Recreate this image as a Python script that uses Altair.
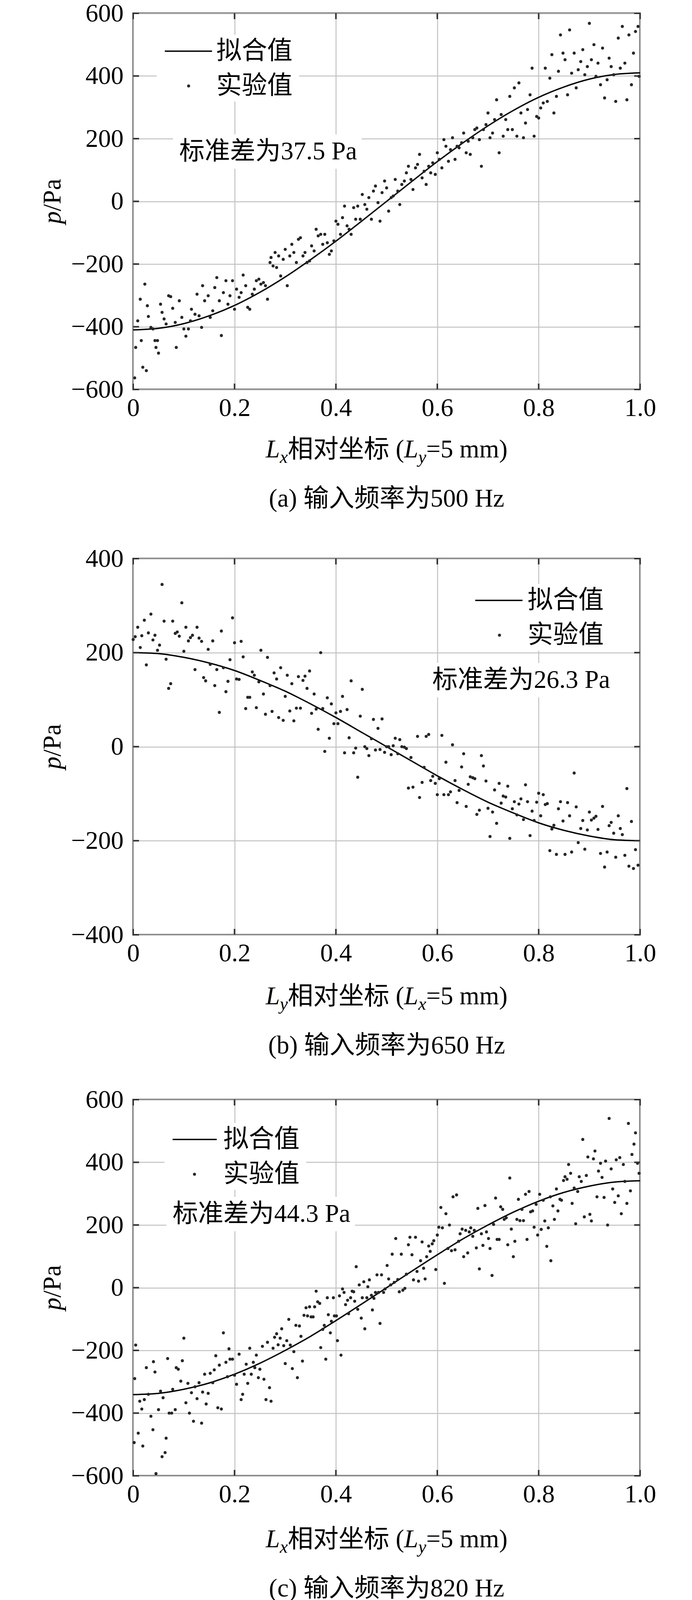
import altair as alt
import pandas as pd

SERIF = "'Liberation Serif', 'Noto Sans CJK SC'"
W, H = 1298, 963
DOT = "#262626"
GRID = "#c2c2c2"
FRAME = "#333333"
FS = 65

X_TICKS = [0, 0.2, 0.4, 0.6, 0.8, 1.0]
Y_TICKS_600 = [-600, -400, -200, 0, 200, 400, 600]
Y_TICKS_400 = [-400, -200, 0, 200, 400]

# fitted curves, read every 0.05 along x
FIT_X = [0, 0.05, 0.1, 0.15, 0.2, 0.25, 0.3, 0.35, 0.4, 0.45, 0.5,
         0.55, 0.6, 0.65, 0.7, 0.75, 0.8, 0.85, 0.9, 0.95, 1.0]
A_FIT = [-410, -405, -390, -365, -332, -290, -241, -186, -127, -64, 0,
         64, 127, 186, 241, 290, 332, 365, 390, 405, 410]
B_FIT = [200, 198, 190, 178, 162, 141, 118, 91, 62, 31, 0,
         -31, -62, -91, -118, -141, -162, -178, -190, -198, -200]
C_FIT = [-341, -337, -324, -304, -276, -241, -200, -155, -105, -53, 0,
         53, 105, 155, 200, 241, 276, 304, 324, 337, 341]
D_FIT = [360, 342, 291, 212, 111, 0, -111, -212, -291, -342, -360,
         -342, -291, -212, -111, 0, 111, 212, 291, 342, 360]

# measured points (x, p)
A_PTS = [(0.003,-563),(0.005,-466),(0.009,-381),(0.014,-312),(0.016,-444),(0.019,-529),(0.023,-264),(0.026,-540),
(0.028,-333),(0.030,-367),(0.035,-402),(0.039,-407),(0.043,-444),(0.045,-466),(0.048,-444),(0.050,-484),(0.054,-328),
(0.057,-354),(0.061,-375),(0.065,-391),(0.070,-301),(0.074,-304),(0.078,-341),(0.083,-386),(0.085,-466),(0.091,-317),
(0.096,-370),(0.100,-407),(0.104,-430),(0.109,-407),(0.113,-381),(0.115,-344),(0.122,-360),(0.126,-296),(0.130,-365),
(0.135,-402),(0.137,-269),(0.141,-317),(0.148,-301),(0.152,-370),(0.157,-349),(0.161,-275),(0.165,-243),(0.170,-317),
(0.174,-428),(0.178,-291),(0.183,-253),(0.187,-328),(0.191,-301),(0.196,-253),(0.200,-344),(0.204,-280),(0.209,-306),
(0.213,-291),(0.217,-235),(0.222,-269),(0.226,-338),(0.230,-344),(0.235,-296),(0.239,-280),(0.243,-253),(0.248,-248),
(0.252,-264),(0.257,-259),(0.261,-269),(0.265,-312),(0.270,-195),(0.272,-179),(0.276,-206),(0.280,-163),(0.283,-211),
(0.287,-174),(0.291,-238),(0.296,-185),(0.300,-153),(0.304,-269),(0.309,-174),(0.313,-137),(0.317,-163),(0.322,-195),
(0.326,-121),(0.330,-116),(0.335,-174),(0.339,-163),(0.343,-195),(0.348,-190),(0.352,-142),(0.357,-158),(0.361,-89),
(0.365,-110),(0.370,-105),(0.374,-137),(0.378,-105),(0.383,-132),(0.387,-169),(0.391,-158),(0.396,-126),(0.400,-63),
(0.404,-73),(0.409,-105),(0.413,-52),(0.417,-15),(0.422,-78),(0.426,-89),(0.430,-105),(0.435,-20),(0.439,-57),
(0.443,-15),(0.448,-57),(0.452,22),(0.457,-10),(0.461,-25),(0.465,12),(0.470,-57),(0.474,33),(0.478,49),(0.483,-4),
(0.487,-63),(0.491,28),(0.496,65),(0.500,43),(0.504,-31),(0.509,12),(0.513,17),(0.517,70),(0.522,33),(0.526,-10),
(0.530,54),(0.535,65),(0.539,91),(0.543,112),(0.548,70),(0.552,38),(0.557,107),(0.561,118),(0.565,150),(0.570,75),
(0.574,96),(0.578,54),(0.583,112),(0.587,91),(0.591,123),(0.596,86),(0.600,155),(0.604,134),(0.609,107),(0.613,197),
(0.617,176),(0.622,128),(0.626,165),(0.630,203),(0.635,134),(0.639,176),(0.643,171),(0.648,187),(0.652,218),(0.657,155),
(0.661,192),(0.665,150),(0.670,203),(0.674,229),(0.678,234),(0.683,197),(0.687,112),(0.691,229),(0.696,245),(0.700,282),
(0.704,203),(0.709,218),(0.713,261),(0.717,324),(0.722,155),(0.726,277),(0.730,208),(0.735,261),(0.739,229),(0.743,335),
(0.748,229),(0.752,362),(0.757,208),(0.761,378),(0.765,282),(0.770,203),(0.774,250),(0.778,293),(0.783,340),(0.787,425),
(0.791,208),(0.796,271),(0.800,266),(0.804,298),(0.809,314),(0.813,425),(0.817,319),(0.822,393),(0.826,468),(0.830,282),
(0.835,335),(0.839,415),(0.843,531),(0.848,473),(0.852,452),(0.857,340),(0.861,547),(0.865,409),(0.870,473),(0.874,362),
(0.878,420),(0.883,446),(0.887,484),(0.891,404),(0.896,430),(0.900,568),(0.904,452),(0.909,500),(0.913,399),(0.917,441),
(0.922,372),(0.926,489),(0.930,330),(0.935,388),(0.939,457),(0.943,430),(0.948,404),(0.952,319),(0.957,521),(0.961,425),
(0.965,558),(0.970,441),(0.974,324),(0.978,531),(0.983,372),(0.987,473),(0.991,542),(0.996,558),(0.998,399)]

B_PTS = [(0.000,228),(0.004,234),(0.009,254),(0.014,211),(0.017,236),(0.022,269),(0.026,174),(0.030,242),(0.035,282),
(0.039,227),(0.043,237),(0.048,205),(0.052,216),(0.057,345),(0.061,267),(0.065,186),(0.070,124),(0.074,134),(0.078,267),
(0.083,241),(0.087,244),(0.091,235),(0.096,306),(0.100,203),(0.104,254),(0.109,225),(0.113,232),(0.117,237),(0.122,164),
(0.126,254),(0.130,231),(0.135,224),(0.139,147),(0.143,140),(0.148,207),(0.152,175),(0.157,225),(0.161,130),(0.165,164),
(0.170,73),(0.174,246),(0.178,168),(0.183,117),(0.187,139),(0.191,185),(0.196,274),(0.200,221),(0.204,144),(0.209,143),
(0.213,224),(0.217,191),(0.222,81),(0.226,105),(0.230,105),(0.235,159),(0.239,152),(0.243,83),(0.248,138),(0.252,205),
(0.257,112),(0.261,69),(0.265,190),(0.270,130),(0.274,75),(0.278,157),(0.283,144),(0.287,62),(0.291,168),(0.296,56),
(0.300,107),(0.304,152),(0.309,76),(0.313,134),(0.317,55),(0.322,82),(0.326,149),(0.330,82),(0.335,141),(0.339,150),
(0.343,124),(0.348,161),(0.352,71),(0.357,112),(0.361,80),(0.365,37),(0.370,200),(0.374,81),(0.378,-10),(0.383,104),
(0.387,18),(0.391,91),(0.396,49),(0.400,72),(0.404,49),(0.409,75),(0.413,107),(0.417,-13),(0.422,79),(0.426,19),
(0.430,140),(0.435,-13),(0.439,-3),(0.443,-65),(0.448,65),(0.452,122),(0.457,0),(0.461,-4),(0.465,-19),(0.470,17),
(0.474,58),(0.478,-7),(0.483,39),(0.487,-6),(0.491,59),(0.496,-12),(0.500,0),(0.504,0),(0.509,-17),(0.513,2),(0.517,18),
(0.522,-15),(0.526,15),(0.530,0),(0.535,-1),(0.539,-4),(0.543,-88),(0.548,-23),(0.552,-86),(0.561,22),(0.565,-108),
(0.570,-76),(0.574,-44),(0.578,22),(0.583,26),(0.587,-72),(0.591,-63),(0.596,-78),(0.600,-102),(0.604,-68),(0.609,24),
(0.613,-102),(0.617,-33),(0.622,-102),(0.626,-96),(0.630,4),(0.635,-72),(0.639,-119),(0.643,-93),(0.648,-43),(0.652,-15),
(0.657,-127),(0.661,-80),(0.665,-64),(0.670,-66),(0.674,-68),(0.678,-144),(0.683,-135),(0.687,-19),(0.691,-41),
(0.696,-73),(0.700,-131),(0.704,-191),(0.709,-139),(0.713,-92),(0.717,-163),(0.722,-78),(0.726,-120),(0.730,-105),
(0.735,-107),(0.739,-84),(0.743,-195),(0.748,-132),(0.752,-117),(0.757,-145),(0.761,-122),(0.765,-111),(0.770,-155),
(0.774,-81),(0.778,-117),(0.783,-189),(0.787,-137),(0.791,-157),(0.796,-118),(0.800,-99),(0.804,-147),(0.809,-102),
(0.813,-123),(0.817,-121),(0.822,-221),(0.826,-175),(0.830,-167),(0.835,-229),(0.839,-132),(0.843,-117),(0.848,-158),
(0.852,-229),(0.857,-119),(0.861,-147),(0.865,-224),(0.870,-56),(0.874,-128),(0.878,-204),(0.883,-174),(0.887,-157),
(0.891,-218),(0.896,-177),(0.900,-139),(0.904,-156),(0.909,-152),(0.913,-148),(0.917,-176),(0.922,-227),(0.926,-127),
(0.930,-256),(0.935,-224),(0.939,-168),(0.943,-161),(0.948,-184),(0.952,-235),(0.957,-147),(0.961,-174),(0.965,-187),
(0.970,-231),(0.974,-89),(0.978,-254),(0.983,-159),(0.987,-259),(0.991,-219),(0.996,-252)]

C_PTS = [(0.002,-494),(0.003,-290),(0.005,-183),(0.010,-464),(0.013,-362),(0.017,-387),(0.019,-505),(0.022,-357),
(0.026,-255),(0.030,-340),(0.035,-410),(0.039,-453),(0.040,-236),(0.043,-269),(0.045,-593),(0.050,-389),(0.054,-330),
(0.057,-539),(0.059,-351),(0.063,-526),(0.065,-480),(0.068,-226),(0.071,-400),(0.076,-400),(0.078,-324),(0.083,-389),
(0.085,-255),(0.089,-260),(0.094,-298),(0.097,-233),(0.100,-161),(0.104,-367),(0.108,-305),(0.111,-400),(0.115,-335),
(0.119,-426),(0.122,-316),(0.126,-354),(0.130,-303),(0.135,-432),(0.137,-333),(0.141,-276),(0.144,-371),(0.148,-337),
(0.152,-273),(0.157,-303),(0.160,-262),(0.163,-217),(0.167,-383),(0.170,-247),(0.174,-387),(0.178,-144),(0.183,-238),
(0.186,-284),(0.189,-195),(0.191,-228),(0.196,-228),(0.200,-279),(0.204,-308),(0.209,-212),(0.213,-357),(0.216,-340),
(0.219,-276),(0.223,-244),(0.226,-305),(0.230,-193),(0.233,-276),(0.237,-238),(0.240,-255),(0.243,-215),(0.247,-287),
(0.250,-260),(0.255,-187),(0.258,-292),(0.262,-357),(0.265,-174),(0.269,-319),(0.272,-362),(0.276,-193),(0.279,-158),
(0.283,-147),(0.286,-182),(0.290,-161),(0.293,-131),(0.297,-185),(0.300,-242),(0.303,-169),(0.307,-101),(0.310,-183),
(0.314,-258),(0.317,-204),(0.321,-120),(0.324,-287),(0.328,-122),(0.331,-155),(0.334,-234),(0.337,-88),(0.341,-64),
(0.344,-90),(0.348,-61),(0.351,-93),(0.355,-93),(0.358,-61),(0.361,-11),(0.364,-45),(0.368,-50),(0.370,-191),
(0.374,-133),(0.377,-120),(0.380,-228),(0.383,-32),(0.385,-86),(0.389,-144),(0.391,-107),(0.395,-32),(0.397,-90),
(0.401,-90),(0.403,-169),(0.407,-26),(0.410,-215),(0.413,-4),(0.416,-15),(0.419,-54),(0.423,-40),(0.425,-83),
(0.429,-32),(0.432,-11),(0.435,-13),(0.437,-43),(0.440,67),(0.443,-69),(0.446,9),(0.450,-97),(0.452,-32),(0.455,19),
(0.457,-131),(0.461,-32),(0.463,3),(0.466,25),(0.470,-24),(0.472,-71),(0.475,-34),(0.478,-15),(0.481,41),(0.484,-15),
(0.487,-114),(0.490,41),(0.494,-15),(0.497,-4),(0.501,71),(0.504,28),(0.508,9),(0.511,107),(0.515,17),(0.518,157),
(0.522,26),(0.525,-13),(0.529,107),(0.532,-8),(0.536,-2),(0.539,43),(0.543,137),(0.546,161),(0.550,105),(0.553,25),
(0.557,161),(0.560,52),(0.563,21),(0.567,86),(0.570,146),(0.573,62),(0.576,28),(0.579,99),(0.583,133),(0.586,116),
(0.590,140),(0.593,150),(0.597,58),(0.600,168),(0.603,193),(0.607,256),(0.610,191),(0.614,14),(0.617,236),(0.621,125),
(0.624,200),(0.628,118),(0.631,290),(0.635,121),(0.638,296),(0.642,148),(0.645,172),(0.649,187),(0.652,99),(0.656,183),
(0.660,111),(0.663,178),(0.666,191),(0.670,164),(0.673,183),(0.677,127),(0.680,253),(0.683,60),(0.687,172),(0.690,135),
(0.694,262),(0.697,178),(0.701,157),(0.704,125),(0.708,39),(0.711,202),(0.715,286),(0.718,154),(0.722,154),(0.725,258),
(0.729,250),(0.732,218),(0.736,223),(0.739,137),(0.743,350),(0.746,187),(0.750,99),(0.753,148),(0.757,218),(0.760,282),
(0.763,214),(0.767,250),(0.770,214),(0.774,298),(0.777,154),(0.781,307),(0.784,242),(0.788,245),(0.791,193),(0.795,266),
(0.798,168),(0.802,298),(0.805,186),(0.809,279),(0.812,213),(0.816,132),(0.819,191),(0.823,290),(0.824,86),(0.828,261),
(0.831,218),(0.835,315),(0.838,245),(0.842,282),(0.845,279),(0.849,342),(0.852,354),(0.856,346),(0.859,393),(0.863,365),
(0.866,269),(0.870,318),(0.873,204),(0.877,307),(0.880,354),(0.884,339),(0.887,473),(0.890,226),(0.894,358),(0.897,417),
(0.901,234),(0.904,213),(0.908,411),(0.911,436),(0.915,290),(0.918,372),(0.922,397),(0.925,352),(0.929,288),(0.932,404),
(0.936,200),(0.939,540),(0.943,379),(0.946,315),(0.950,272),(0.953,408),(0.957,293),(0.960,415),(0.963,236),(0.967,393),
(0.970,339),(0.974,269),(0.977,524),(0.981,309),(0.984,425),(0.988,458),(0.991,494),(0.995,397),(0.998,365)]

D_PTS = [(0.002,444),(0.003,368),(0.005,336),(0.009,347),(0.012,586),(0.016,430),(0.017,501),(0.021,433),(0.023,464),
(0.026,449),(0.030,290),(0.033,556),(0.037,320),(0.039,554),(0.043,290),(0.045,419),(0.049,145),(0.052,486),(0.056,243),
(0.059,358),(0.063,318),(0.066,336),(0.070,299),(0.073,118),(0.077,290),(0.079,481),(0.082,342),(0.085,404),(0.088,264),
(0.090,175),(0.094,215),(0.097,363),(0.101,121),(0.104,401),(0.107,207),(0.110,197),(0.112,325),(0.116,275),(0.118,41),
(0.122,277),(0.124,365),(0.127,358),(0.130,207),(0.134,170),(0.137,191),(0.141,272),(0.143,17),(0.146,256),(0.150,78),
(0.153,159),(0.156,143),(0.159,172),(0.163,180),(0.165,111),(0.169,135),(0.172,105),(0.175,121),(0.177,92),(0.181,92),
(0.184,2),(0.187,39),(0.190,-15),(0.193,-2),(0.196,0),(0.199,54),(0.203,28),(0.206,110),(0.209,25),(0.212,-40),
(0.216,64),(0.219,-47),(0.223,86),(0.226,24),(0.230,43),(0.233,-50),(0.236,14),(0.238,-50),(0.241,14),(0.243,38),
(0.247,35),(0.250,-37),(0.252,-115),(0.255,-204),(0.257,-144),(0.261,-64),(0.264,-90),(0.267,18),(0.270,-77),(0.273,-153),
(0.277,-86),(0.279,-153),(0.283,-142),(0.285,-107),(0.289,-90),(0.291,-15),(0.294,-101),(0.297,-118),(0.300,-120),
(0.303,-40),(0.306,-136),(0.309,-206),(0.312,-99),(0.315,-155),(0.317,-161),(0.320,-244),(0.323,-333),(0.326,-208),
(0.329,-185),(0.331,-236),(0.334,-212),(0.337,-190),(0.339,-155),(0.342,-169),(0.345,-337),(0.348,-244),(0.350,-195),
(0.353,-279),(0.356,-212),(0.358,-312),(0.362,-312),(0.365,-228),(0.368,-333),(0.370,-294),(0.374,-308),(0.377,-308),
(0.380,-301),(0.383,-273),(0.385,-308),(0.388,-322),(0.391,-290),(0.395,-212),(0.398,-279),(0.401,-255),(0.404,-255),
(0.407,-357),(0.410,-359),(0.413,-273),(0.416,-236),(0.419,-255),(0.423,-314),(0.425,-193),(0.428,-312),(0.430,-453),
(0.433,-380),(0.437,-421),(0.440,-269),(0.443,-294),(0.445,-378),(0.448,-265),(0.450,-294),(0.454,-319),(0.457,-351),
(0.461,-269),(0.463,-357),(0.466,-357),(0.470,-236),(0.472,-426),(0.475,-445),(0.478,-298),(0.482,-340),(0.484,-416),
(0.487,-287),(0.490,-335),(0.494,-370),(0.497,-346),(0.501,-380),(0.503,-327),(0.506,-340),(0.509,-265),(0.511,-308),
(0.515,-276),(0.518,-473),(0.522,-391),(0.524,-247),(0.527,-183),(0.530,-305),(0.534,-308),(0.537,-273),(0.541,-330),
(0.544,-279),(0.548,-305),(0.551,-273),(0.555,-308),(0.558,-337),(0.562,-322),(0.565,-344),(0.569,-281),(0.572,-308),
(0.577,-389),(0.579,-351),(0.583,-290),(0.586,-330),(0.590,-312),(0.593,-298),(0.597,-271),(0.600,-247),(0.603,-322),
(0.607,-284),(0.610,-370),(0.614,-204),(0.617,-172),(0.621,-226),(0.624,-265),(0.628,-327),(0.631,-58),(0.635,-161),
(0.638,-198),(0.642,-351),(0.645,-294),(0.649,-208),(0.652,-222),(0.656,-161),(0.660,-190),(0.663,-258),(0.666,-183),
(0.670,-90),(0.673,-165),(0.677,-322),(0.680,-136),(0.683,-165),(0.687,-179),(0.690,-129),(0.694,-201),(0.697,-142),
(0.701,-99),(0.704,-88),(0.708,-75),(0.711,-212),(0.715,-217),(0.718,-15),(0.722,25),(0.725,-97),(0.729,-165),
(0.732,-82),(0.736,-79),(0.739,-131),(0.743,-32),(0.746,-88),(0.750,14),(0.753,-32),(0.757,-54),(0.760,11),(0.763,68),
(0.767,84),(0.770,-34),(0.774,49),(0.777,64),(0.781,35),(0.784,97),(0.788,28),(0.791,111),(0.795,154),(0.798,135),
(0.800,11),(0.803,121),(0.807,159),(0.810,183),(0.814,78),(0.817,279),(0.821,54),(0.824,193),(0.828,211),(0.831,282),
(0.835,161),(0.838,229),(0.842,157),(0.845,89),(0.849,75),(0.852,183),(0.856,157),(0.859,97),(0.863,234),(0.866,3),
(0.870,387),(0.873,221),(0.877,114),(0.880,86),(0.884,293),(0.887,183),(0.890,279),(0.894,154),(0.897,312),(0.901,393),
(0.904,264),(0.908,361),(0.911,385),(0.915,336),(0.918,256),(0.922,307),(0.925,556),(0.929,449),(0.932,336),(0.936,204),
(0.939,325),(0.943,236),(0.946,189),(0.950,390),(0.953,261),(0.957,92),(0.960,183),(0.963,329),(0.967,438),(0.970,352),
(0.974,361),(0.977,247),(0.981,361),(0.984,352),(0.988,401),(0.991,290),(0.995,312),(0.998,344)]

# rough Times glyph widths in em, CJK counts as 1
CHAR_W = {" ": 0.25, "(": 0.333, ")": 0.333, "=": 0.564, ".": 0.25, "/": 0.278,
          "L": 0.556, "P": 0.556, "a": 0.444, "m": 0.778, "p": 0.5, "x": 0.444, "y": 0.444}
for d in "0123456789":
    CHAR_W[d] = 0.5


def text_w(s, size):
    return sum(CHAR_W.get(c, 1.0) for c in s) * size


def label(s, x, y, size=FS, style="normal", align="left", angle=0):
    return alt.Chart(pd.DataFrame({"t": [s]})).mark_text(
        font=SERIF, fontSize=size, fontStyle=style, align=align,
        baseline="middle", angle=angle, color="black").encode(
        x=alt.value(x), y=alt.value(y), text="t:N")


def white_box(x1, x2, y1, y2):
    return alt.Chart(pd.DataFrame({"b": [0]})).mark_rect(color="white").encode(
        x=alt.value(x1), x2=alt.value(x2), y=alt.value(y1), y2=alt.value(y2))


def panel(pts, fit, yticks, sub1, sub2, caption, std_text, leg, t_off, c_off):
    xs = alt.Scale(domain=[0, 1], nice=False)
    ys = alt.Scale(domain=[yticks[0], yticks[-1]], nice=False, zero=False)
    lx1, lx2, ly = leg["line"]
    dx, dy = leg["dot"]
    sx, sy = leg["std"]
    lab = leg["lab"]

    xax = alt.Axis(values=X_TICKS, grid=True, ticks=False, domain=False, title=None,
                   labelExpr="datum.value == 0 ? '0' : format(datum.value, '.1f')",
                   labelFont=SERIF, labelFontSize=FS, labelColor="black", labelPadding=16,
                   labelFlush=False, gridColor=GRID, gridWidth=2.5)
    yax = alt.Axis(values=yticks, format="d", grid=True, ticks=False, domain=False, title=None,
                   labelFont=SERIF, labelFontSize=FS, labelColor="black", labelPadding=25,
                   labelFlush=False, gridColor=GRID, gridWidth=2.5)

    points = alt.Chart(pd.DataFrame(pts, columns=["x", "y"])).mark_circle(
        size=60, color=DOT, opacity=1).encode(
        x=alt.X("x:Q", scale=xs, axis=xax), y=alt.Y("y:Q", scale=ys, axis=yax))
    line = alt.Chart(pd.DataFrame({"x": FIT_X, "y": fit})).mark_line(
        color="black", strokeWidth=3.5, interpolate="monotone").encode(
        x=alt.X("x:Q", scale=xs), y=alt.Y("y:Q", scale=ys))

    # inward ticks on all four sides
    xt = alt.Chart(pd.DataFrame({"x": X_TICKS})).mark_rule(color=FRAME, strokeWidth=4)
    yt = alt.Chart(pd.DataFrame({"y": yticks})).mark_rule(color=FRAME, strokeWidth=4)
    ticks = [
        xt.encode(x=alt.X("x:Q", scale=xs), y=alt.value(0), y2=alt.value(15)),
        xt.encode(x=alt.X("x:Q", scale=xs), y=alt.value(H - 15), y2=alt.value(H)),
        yt.encode(y=alt.Y("y:Q", scale=ys), x=alt.value(0), x2=alt.value(15)),
        yt.encode(y=alt.Y("y:Q", scale=ys), x=alt.value(W - 15), x2=alt.value(W)),
    ]

    one = pd.DataFrame({"k": [0]})
    legend = [
        alt.Chart(one).mark_rule(color="black", strokeWidth=3.5).encode(
            x=alt.value(lx1), x2=alt.value(lx2), y=alt.value(ly)),
        alt.Chart(one).mark_circle(size=60, color=DOT, opacity=1).encode(
            x=alt.value(dx), y=alt.value(dy)),
        label("拟合值", lab, ly),
        label("实验值", lab, dy),
        label(std_text, sx, sy),
    ]

    # x title: L_sub1 ... (L_sub2=5 mm)
    parts = [("L", FS, "italic", 0), (sub1, 46, "italic", 20), ("相对坐标 (", FS, "normal", 0),
             ("L", FS, "italic", 0), (sub2, 46, "italic", 20), ("=5 mm)", FS, "normal", 0)]
    cx = W / 2 - sum(text_w(s, f) for s, f, _, _ in parts) / 2
    titles = []
    for s, f, st, off in parts:
        titles.append(label(s, cx, H + t_off + off, f, st))
        cx += text_w(s, f)
    ylen = text_w("p/Pa", FS)
    titles.append(label("p", -206, H / 2 + ylen / 2, FS, "italic", angle=270))
    titles.append(label("/Pa", -206, H / 2 + ylen / 2 - text_w("p", FS), FS, angle=270))
    titles.append(label(caption, W / 2, H + c_off, FS, align="center"))

    boxes = [
        white_box(lx1 - 21, lab + text_w("拟合值", FS) + 17, ly - 42, dy + 40),
        white_box(sx - 16, sx + text_w(std_text, FS) + 12, sy - 44, sy + 44),
    ]
    return alt.layer(*boxes, line, points, *ticks, *legend, *titles).properties(width=W, height=H)


pa = panel(A_PTS, A_FIT, Y_TICKS_600, "x", "y", "(a) 输入频率为500 Hz", "标准差为37.5 Pa",
           dict(line=(81, 202, 97), dot=(142, 186), lab=213, std=(118, 354)), 154, 280)
pb = panel(B_PTS, B_FIT, Y_TICKS_400, "y", "x", "(b) 输入频率为650 Hz", "标准差为26.3 Pa",
           dict(line=(876, 997, 107), dot=(938, 196), lab=1010, std=(766, 311)), 158, 284)
pc = panel(C_PTS, C_FIT, Y_TICKS_600, "x", "y", "(c) 输入频率为820 Hz", "标准差为44.3 Pa",
           dict(line=(101, 214, 102), dot=(157, 191), lab=231, std=(101, 293)), 163, 289)
pd_ = panel(D_PTS, D_FIT, Y_TICKS_600, "x", "y", "(d) 输入频率为1 192 Hz", "标准差为50.3 Pa",
            dict(line=(466, 586, 96), dot=(526, 186), lab=599, std=(439, 302)), 148, 253)

lower = alt.vconcat(pb, alt.vconcat(pc, pd_, spacing=63), spacing=69)
chart = alt.vconcat(pa, lower, spacing=84).properties(
    padding={"left": 93, "top": -8, "right": 0, "bottom": 0}
).configure_view(stroke=FRAME, strokeWidth=4)

chart.save("out.html", embed_options={"renderer": "svg", "actions": False})
